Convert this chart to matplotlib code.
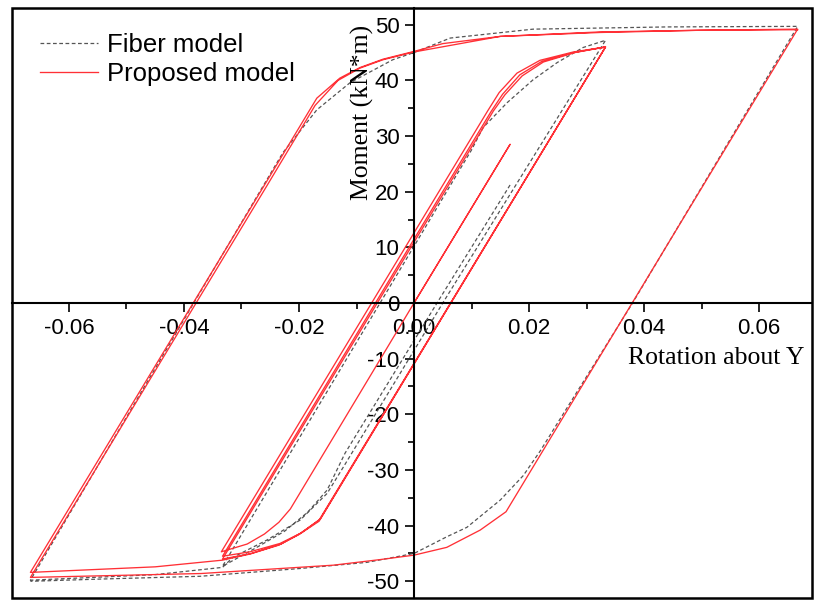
import numpy as np
import matplotlib
matplotlib.use("Agg")
import matplotlib.pyplot as plt
from matplotlib.patches import Rectangle
from matplotlib.ticker import MultipleLocator, FormatStrFormatter

plt.rcParams['axes.unicode_minus'] = False
plt.rcParams['font.family'] = ['Liberation Sans', 'DejaVu Sans']

# Fiber model (grey dashed) - rotation / moment history
fiber_rot = [0.0167, 0.0040, -0.0120, -0.0151, -0.0185, -0.0225, -0.0275, -0.0333,
             -0.0059, 0.0100, 0.0120, 0.0162, 0.0207, 0.0249, 0.0294, 0.0333,
             0.0050, -0.0123, -0.0151, -0.0198, -0.0256, -0.0315, -0.0333,
             -0.0450, -0.0667,
             -0.0383, -0.0228, -0.0169, -0.0111, -0.0037, 0.0, 0.0063, 0.0207, 0.0440, 0.0667,
             0.0380, 0.0250, 0.0220, 0.0190, 0.0150, 0.0092, 0.0057, 0.0,
             -0.0082, -0.0198, -0.0372, -0.0546, -0.0667]
fiber_mom = [21.2, 0.0, -27.0, -33.6, -37.6, -41.0, -44.0, -47.3,
             0.0, 27.5, 31.5, 36.0, 40.1, 43.2, 45.9, 47.2,
             0.0, -29.5, -34.2, -39.0, -42.6, -45.7, -47.5,
             -48.8, -49.8,
             0.0, 27.0, 34.7, 39.6, 43.7, 45.0, 47.6, 49.2, 49.6, 49.7,
             0.0, -21.5, -26.5, -31.0, -35.4, -40.3, -42.0, -45.0,
             -46.6, -47.7, -49.1, -49.6, -50.0]

# Proposed model (red)
prop_rot = [0.0, 0.0167, 0.0, -0.0215, -0.0235, -0.0260, -0.0290, -0.0335,
            0.0128, 0.0148, 0.0179, 0.0219, 0.0277, 0.0333,
            -0.0165, -0.0198, -0.0233, -0.0285, -0.0333,
            0.0134, 0.0154, 0.0184, 0.0222, 0.0278, 0.0333,
            -0.0163, -0.0196, -0.0231, -0.0283, -0.0333,
            0.0138, 0.0158, 0.0188, 0.0225, 0.0280, 0.0333,
            -0.0165, -0.0200, -0.0235, -0.0285, -0.0333,
            -0.0450, -0.0667,
            -0.0250, -0.0169, -0.0129, -0.0094, -0.0054, 0.0, 0.0050, 0.0150, 0.0323, 0.0497, 0.0667,
            0.0160, 0.0115, 0.0057, 0.0, -0.0059, -0.0140, -0.0370, -0.0667,
            -0.0255, -0.0172, -0.0132, -0.0094, -0.0054, 0.0, 0.0150, 0.0323, 0.0497, 0.0667]
prop_mom = [0.0, 28.5, 0.0, -37.0, -39.4, -41.5, -43.3, -44.7,
            34.5, 37.8, 41.3, 43.6, 45.1, 46.0,
            -39.0, -41.4, -43.2, -44.7, -45.5,
            34.4, 37.5, 41.0, 43.4, 45.0, 46.0,
            -38.8, -41.3, -43.3, -45.0, -46.0,
            34.5, 37.4, 40.8, 43.3, 45.0, 46.0,
            -39.2, -41.6, -43.5, -45.1, -46.2,
            -47.4, -48.4,
            22.9, 36.8, 40.4, 42.3, 43.8, 45.2, 46.6, 47.9, 48.7, 49.0, 49.2,
            -37.5, -40.8, -43.9, -45.3, -46.1, -47.1, -48.6, -49.3,
            21.2, 35.5, 40.0, 42.2, 43.7, 45.1, 47.9, 48.6, 49.0, 49.1]

fig = plt.figure(figsize=(8.16, 6.01), dpi=100)
ax = fig.add_axes([12/816, 3/601, 800/816, 590/601])

ax.plot(fiber_rot, fiber_mom, color='#555555', lw=0.9, dashes=(3, 2), label='Fiber model')
ax.plot(prop_rot, prop_mom, color='#ff3036', lw=0.95, label='Proposed model')

ax.set_xlim(-0.0699, 0.0692)
ax.set_ylim(-53, 53)

# axes crossing at the origin, plus a box round the plot
ax.spines['left'].set_position(('data', 0))
ax.spines['bottom'].set_position(('data', 0))
ax.spines['top'].set_visible(False)
ax.spines['right'].set_visible(False)
for s in ['left', 'bottom']:
    ax.spines[s].set_linewidth(1.5)
ax.add_patch(Rectangle((0, 0), 1, 1, transform=ax.transAxes, fill=False,
                       lw=1.8, edgecolor='black', clip_on=False, zorder=5))

ax.xaxis.set_major_locator(MultipleLocator(0.02))
ax.xaxis.set_minor_locator(MultipleLocator(0.01))
ax.xaxis.set_major_formatter(FormatStrFormatter('%.2f'))
ax.yaxis.set_major_locator(MultipleLocator(10))
ax.yaxis.set_minor_locator(MultipleLocator(5))
ax.tick_params(which='major', direction='out', length=6.5, width=1.2, labelsize=16, pad=4)
ax.tick_params(which='minor', direction='out', length=4.3, width=1.2)

ax.text(0.4375, 0.823, 'Moment (kN*m)', transform=ax.transAxes, rotation=90,
        ha='center', va='center', fontsize=18.5, family='Liberation Serif')
ax.text(0.991, 0.407, 'Rotation about Y', transform=ax.transAxes,
        ha='right', va='center', fontsize=18.5, family='Liberation Serif')

ax.legend(loc='upper left', bbox_to_anchor=(0.035, 0.958), frameon=False,
          fontsize=18.5, handlelength=2.26, handletextpad=0.35,
          labelspacing=0.2, borderpad=0, borderaxespad=0)

plt.savefig('out.png', dpi=100)
